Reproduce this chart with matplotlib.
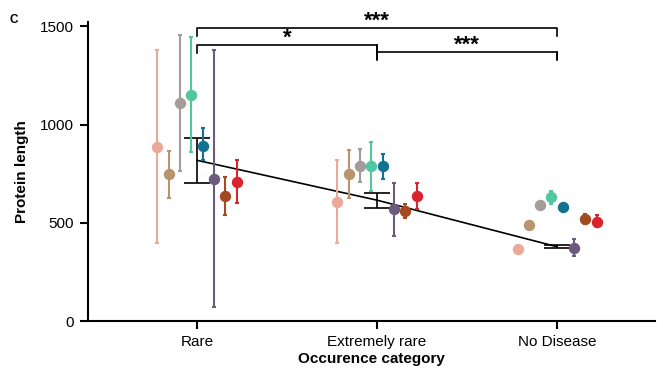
import numpy as np
import matplotlib
matplotlib.use("Agg")
from matplotlib import pyplot as plt

plt.rcParams['font.family'] = ['Liberation Sans', 'DejaVu Sans']

categories = ['Rare', 'Extremely rare', 'No Disease']

# per-series median and interval (lo, hi) for each category
series_colors = ['#EBA99A', '#B8956D', '#A39C98', '#52C6A0',
                 '#13728F', '#6D5A7D', '#A34A22', '#D9232F']
series_mid = [
    [886, 607, 364],
    [746, 747, 488],
    [1110, 790, 593],
    [1150, 788, 629],
    [893, 790, 581],
    [723, 568, 373],
    [635, 558, 520],
    [708, 635, 505],
]
series_lo = [
    [398, 398, 354],
    [627, 624, 478],
    [762, 708, 583],
    [861, 661, 598],
    [822, 725, 571],
    [73, 432, 330],
    [539, 522, 495],
    [602, 569, 476],
]
series_hi = [
    [1378, 819, 374],
    [864, 869, 498],
    [1457, 874, 603],
    [1445, 912, 661],
    [980, 852, 591],
    [1378, 705, 417],
    [734, 595, 547],
    [819, 705, 539],
]

group_mean = [818, 615, 378]
group_err = [114, 39, 8]

# significance brackets: (from, to, height, label)
brackets = [(0, 2, 1490, '***'), (0, 1, 1406, '*'), (1, 2, 1369, '***')]

fig = plt.figure(figsize=(6.63, 3.73), dpi=100)
ax = fig.add_axes([0.1327, 0.1394, 0.8553, 0.8016])

x = np.arange(len(categories))
step = 0.0628
n = len(series_mid)

for i in range(n):
    off = (i - (n - 1) / 2) * step
    mid = np.array(series_mid[i])
    yerr = [mid - np.array(series_lo[i]), np.array(series_hi[i]) - mid]
    ax.errorbar(x + off, mid, yerr=yerr, fmt='o', color=series_colors[i],
                ms=7.2, elinewidth=1.5, capsize=1.3, capthick=1.5,
                zorder=3)

ax.plot(x, group_mean, color='black', lw=1.2, zorder=2)
ax.errorbar(x, group_mean, yerr=group_err, fmt='none', ecolor='black',
            elinewidth=1.2, capsize=9.7, capthick=1.2, zorder=2)

# brackets
leg = 40
for a, b, h, lab in brackets:
    ax.plot([a, a, b, b], [h - leg, h, h, h - leg], color='black', lw=1.2,
            clip_on=False, zorder=4)
    ax.text((a + b) / 2, h + 8, lab, ha='center', va='baseline',
            fontsize=16, fontweight='bold')
# the shared leg between the two lower brackets goes further down
ax.plot([1, 1], [1406, 1332], color='black', lw=1.2, clip_on=False, zorder=4)
ax.plot([2, 2], [1369, 1332], color='black', lw=1.2, clip_on=False, zorder=4)

ax.set_xlim(-0.6056, 2.544)
ax.set_ylim(0, 1522)
ax.set_yticks([0, 500, 1000, 1500])
ax.set_xticks(x)
ax.set_xticklabels(categories)
ax.tick_params(labelsize=11, width=1.5, length=5.5, pad=4.5)
for s in ['top', 'right']:
    ax.spines[s].set_visible(False)
for s in ['left', 'bottom']:
    ax.spines[s].set_linewidth(1.5)

ax.set_ylabel('Protein length', fontsize=11, fontweight='bold', labelpad=8)
ax.set_xlabel('Occurence category', fontsize=11, fontweight='bold', labelpad=2)
fig.text(0.014, 0.938, 'C', fontsize=8.5, fontweight='bold', va='baseline')

plt.savefig('out.png', dpi=100)
